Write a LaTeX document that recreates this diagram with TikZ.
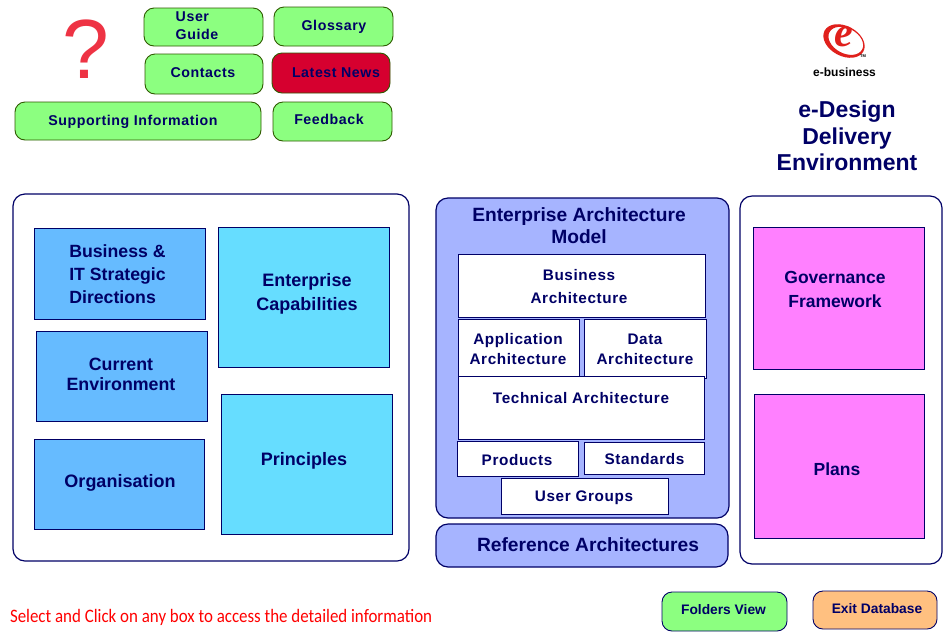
\documentclass[tikz,border=0pt]{standalone}
\usepackage{fontspec}
\setmainfont{Liberation Sans}[BoldFont={Liberation Sans Bold}]
\newfontfamily\spacedfont{Liberation Sans Bold}[LetterSpace=4]
\newfontfamily\plainfont{Liberation Sans Bold}
\newfontfamily\notefont{Carlito}[FakeStretch=0.89]
\newfontfamily\logofont{Liberation Serif Bold Italic}
\definecolor{navy}{HTML}{000066}
\definecolor{btngreen}{HTML}{8CFF80}
\definecolor{btnedge}{HTML}{2F5A00}
\definecolor{newsred}{HTML}{D6002F}
\definecolor{panelblue}{HTML}{A6B4FF}
\definecolor{skyblue}{HTML}{66BBFF}
\definecolor{cyanbox}{HTML}{66DDFF}
\definecolor{pinkbox}{HTML}{FF80FF}
\definecolor{orangebtn}{HTML}{FFC080}
\definecolor{qred}{HTML}{EE3344}
\definecolor{logored}{HTML}{E0201C}
\newcommand{\bx}[6]{%
  \pgfmathsetmacro{\bxcx}{(#3+#5)/2}%
  \pgfmathsetmacro{\bxcy}{(#4+#6)/2}%
  \pgfmathsetmacro{\bxw}{#5-#3}%
  \pgfmathsetmacro{\bxh}{#6-#4}%
  \node[#1, minimum width=\bxw pt, minimum height=\bxh pt] (#2) at (\bxcx,\bxcy) {};}
\begin{document}
\begin{tikzpicture}[x=1pt,y=-1pt,
  every node/.style={inner sep=0pt,outer sep=0pt,align=center,text=navy},
  btn/.style={draw=btnedge,line width=0.9pt,fill=btngreen,rounded corners=10pt},
  news/.style={draw=btnedge,line width=0.9pt,fill=newsred,rounded corners=10pt},
  exitbtn/.style={draw=navy,line width=0.9pt,fill=orangebtn,rounded corners=10pt},
  foldbtn/.style={draw=navy,line width=0.9pt,fill=btngreen,rounded corners=10pt},
  panel/.style={draw=navy,line width=1.2pt,fill=white,rounded corners=12pt},
  bluepanel/.style={draw=navy,line width=1.2pt,fill=panelblue,rounded corners=12pt},
  sky/.style={draw=navy,line width=0.7pt,fill=skyblue},
  cyanb/.style={draw=navy,line width=0.7pt,fill=cyanbox},
  pink/.style={draw=navy,line width=0.7pt,fill=pinkbox},
  whiteb/.style={draw=navy,line width=0.8pt,fill=white},
  small/.style={font=\spacedfont\fontsize{14.2}{18}\selectfont},
  big/.style={font=\plainfont\fontsize{18}{22}\selectfont},
  title/.style={font=\plainfont\fontsize{23}{26.5}\selectfont},
  tiny/.style={font=\plainfont\fontsize{13.8}{16}\selectfont}]
\useasboundingbox (0,0) rectangle (949,633);
\fill[white] (0,0) rectangle (949,633);

% question mark
\node[text=qred,font=\fontsize{84}{84}\selectfont] (qmark) at (85.5,49) {?};

% top buttons
\bx{btn}{ug}{144}{8}{263}{46}
\bx{btn}{gl}{274}{7}{393}{46}
\bx{btn}{co}{145}{54}{263}{94}
\bx{news}{ln}{272}{53}{390}{93}
\bx{btn}{si}{15}{102}{261}{140}
\bx{btn}{fb}{273}{102}{392}{141}
\node[small,align=left] (ugt) at (197,25.5) {User\\Guide};
\node[small] (glt) at (334,26.5) {Glossary};
\node[small] (cot) at (203,72.5) {Contacts};
\node[small] (lnt) at (336,73) {Latest News};
\node[small] (sit) at (133,121.5) {Supporting Information};
\node[small] (fbt) at (329,119) {Feedback};

% logo
\fill[logored,even odd rule,rotate around={-28:(844,41)}] (844,41) ellipse (22pt and 15pt) (845.5,40) ellipse (18.5pt and 12.5pt);
\node[text=logored,font=\logofont\fontsize{42}{42}\selectfont] (logoe) at (844,37) {e};
\node[text=black,font=\plainfont\fontsize{4}{4}\selectfont] (tm) at (863,56) {TM};
\node[text=black,font=\plainfont\fontsize{12}{12}\selectfont] (ebiz) at (844.5,72) {e-business};
\node[title] (edde) at (847,136) {e-Design\\Delivery\\Environment};

% left panel
\bx{panel}{left}{13}{194}{409}{561}
\bx{sky}{bus}{34}{228}{205}{319}
\bx{sky}{cur}{36}{331}{207}{421}
\bx{sky}{org}{34}{439}{204}{529}
\bx{cyanb}{ent}{218}{227}{389}{367}
\bx{cyanb}{pri}{221}{394}{392}{534}
\node[align=left,font=\plainfont\fontsize{17.7}{23}\selectfont] (bust) at (117.5,274) {Business \&\\IT Strategic\\Directions};
\node[font=\plainfont\fontsize{17.8}{20}\selectfont] (curt) at (121,374) {Current\\Environment};
\node[big] (orgt) at (120,483) {Organisation};
\node[font=\plainfont\fontsize{18}{24}\selectfont] (entt) at (307,294) {Enterprise\\Capabilities};
\node[big] (prit) at (304,461) {Principles};

% centre
\bx{bluepanel}{ea}{436}{198}{729}{518}
\bx{bluepanel}{ref}{436}{524}{728}{567}
\node[font=\plainfont\fontsize{19.2}{22}\selectfont] (eat) at (579,225.5) {Enterprise Architecture\\Model};
\bx{whiteb}{ba}{458}{254}{705}{317}
\bx{whiteb}{aa}{458}{319}{579}{376}
\bx{whiteb}{da}{584}{319}{706}{378}
\bx{whiteb}{ta}{458}{376}{704}{439}
\bx{whiteb}{pr}{457}{441}{578}{476}
\bx{whiteb}{st}{584}{442}{704}{474}
\bx{whiteb}{ugr}{501}{478}{668}{514}
\node[font=\spacedfont\fontsize{15.3}{23}\selectfont] (bat) at (579,286.5) {Business\\Architecture};
\node[font=\spacedfont\fontsize{15.3}{20}\selectfont] (aat) at (518,349.5) {Application\\Architecture};
\node[font=\spacedfont\fontsize{15.3}{19.5}\selectfont] (dat) at (645,349.5) {Data\\Architecture};
\node[font=\spacedfont\fontsize{15.3}{20}\selectfont] (tat) at (581,398) {Technical Architecture};
\node[font=\spacedfont\fontsize{15.3}{20}\selectfont] (prt) at (517,460) {Products};
\node[font=\spacedfont\fontsize{15.3}{20}\selectfont] (stt) at (644.5,459.5) {Standards};
\node[font=\spacedfont\fontsize{15.3}{20}\selectfont] (ugrt) at (584,497.5) {User Groups};
\node[font=\plainfont\fontsize{19.2}{22}\selectfont] (reft) at (588,545) {Reference Architectures};

% right panel
\bx{panel}{right}{740}{196}{942}{564}
\bx{pink}{gov}{753}{227}{924}{369}
\bx{pink}{pla}{754}{394}{924}{538}
\node[font=\plainfont\fontsize{17.5}{24}\selectfont] (govt) at (835,289.5) {Governance\\Framework};
\node[font=\plainfont\fontsize{17.5}{20}\selectfont] (plat) at (837,469) {Plans};

% bottom
\node[anchor=west,text=red,font=\notefont\fontsize{19}{20}\selectfont] (note) at (10,617) {Select and Click on any box to access the detailed information};
\bx{foldbtn}{fv}{662}{592}{787}{631}
\bx{exitbtn}{ex}{813}{591}{937}{629}
\node[tiny] (fvt) at (723.5,610) {Folders View};
\node[tiny] (ext) at (877,609) {Exit Database};
\end{tikzpicture}
\end{document}
